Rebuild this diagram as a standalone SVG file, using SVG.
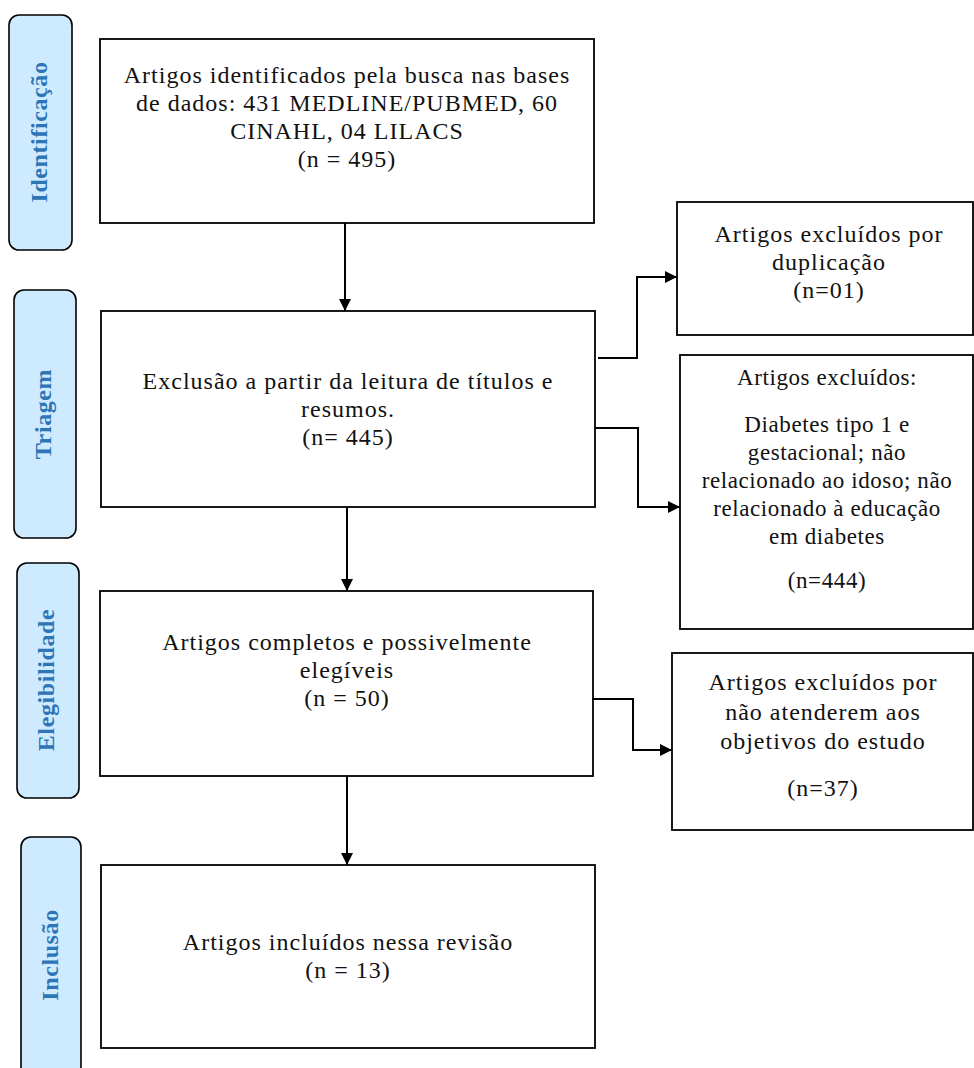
<svg xmlns="http://www.w3.org/2000/svg" width="974" height="1068" viewBox="0 0 974 1068">
<style>
.box{fill:#fff;stroke:#000;stroke-width:1.8}
.phase{fill:#cdeafe;stroke:#000;stroke-width:1.6}
.pt{font-family:"Liberation Serif",serif;font-weight:bold;font-size:24px;letter-spacing:0.6px;fill:#2e75b6;text-anchor:middle}
.t{font-family:"Liberation Serif",serif;font-size:24px;letter-spacing:1px;fill:#111;text-anchor:middle}
.ts{font-family:"Liberation Serif",serif;font-size:23px;letter-spacing:0.6px;fill:#111;text-anchor:middle}
.c{fill:none;stroke:#000;stroke-width:2;marker-end:url(#ah)}
</style>
<defs>
<marker id="ah" markerUnits="userSpaceOnUse" viewBox="0 0 12 12" refX="12" refY="6" markerWidth="12" markerHeight="12" orient="auto">
<path d="M0,0 L12,6 L0,12 z" fill="#000"/>
</marker>
</defs>
<rect width="974" height="1068" fill="#fff"/>

<g id="phase-identificacao">
<rect class="phase" x="9" y="15" width="63" height="235" rx="10"/>
<text class="pt" transform="translate(47,132) rotate(-90)">Identificação</text>
</g>
<g id="phase-triagem">
<rect class="phase" x="14" y="290" width="62" height="248" rx="10"/>
<text class="pt" transform="translate(51,414) rotate(-90)">Triagem</text>
</g>
<g id="phase-elegibilidade">
<rect class="phase" x="17" y="563" width="62" height="235" rx="10"/>
<text class="pt" transform="translate(54,680) rotate(-90)">Elegibilidade</text>
</g>
<g id="phase-inclusao">
<rect class="phase" x="21" y="837" width="60" height="240" rx="10"/>
<text class="pt" transform="translate(58,955) rotate(-90)">Inclusão</text>
</g>

<g id="node-identificados">
<rect class="box" x="100" y="39" width="494" height="184"/>
<text class="t" x="347" y="83">Artigos identificados pela busca nas bases</text>
<text class="t" x="347" y="111">de dados: 431 MEDLINE/PUBMED, 60</text>
<text class="t" x="347" y="139">CINAHL, 04 LILACS</text>
<text class="t" x="347" y="167">(n = 495)</text>
</g>
<g id="node-triagem">
<rect class="box" x="101" y="311" width="494" height="196"/>
<text class="t" x="348" y="389">Exclusão a partir da leitura de títulos e</text>
<text class="t" x="348" y="417">resumos.</text>
<text class="t" x="348" y="445">(n= 445)</text>
</g>
<g id="node-elegiveis">
<rect class="box" x="100" y="591" width="493" height="185"/>
<text class="t" x="347" y="650">Artigos completos e possivelmente</text>
<text class="t" x="347" y="678">elegíveis</text>
<text class="t" x="347" y="706">(n = 50)</text>
</g>
<g id="node-incluidos">
<rect class="box" x="101" y="865" width="494" height="183"/>
<text class="t" x="348" y="950">Artigos incluídos nessa revisão</text>
<text class="t" x="348" y="978">(n = 13)</text>
</g>
<g id="node-duplicacao">
<rect class="box" x="677" y="202" width="296" height="133"/>
<text class="t" x="829" y="242">Artigos excluídos por</text>
<text class="t" x="829" y="270">duplicação</text>
<text class="t" x="829" y="298">(n=01)</text>
</g>
<g id="node-excluidos">
<rect class="box" x="680" y="355" width="293" height="274"/>
<text class="ts" x="827" y="385">Artigos excluídos:</text>
<text class="ts" x="827" y="432">Diabetes tipo 1 e</text>
<text class="ts" x="827" y="460">gestacional; não</text>
<text class="ts" x="827" y="488">relacionado ao idoso; não</text>
<text class="ts" x="827" y="516">relacionado à educação</text>
<text class="ts" x="827" y="544">em diabetes</text>
<text class="ts" x="827" y="588">(n=444)</text>
</g>
<g id="node-objetivos">
<rect class="box" x="672" y="653" width="301" height="177"/>
<text class="t" x="823" y="690">Artigos excluídos por</text>
<text class="t" x="823" y="720">não atenderem aos</text>
<text class="t" x="823" y="749">objetivos do estudo</text>
<text class="t" x="823" y="796">(n=37)</text>
</g>

<g id="connectors">
<path class="c" d="M345,223 V311"/>
<path class="c" d="M347,507 V591"/>
<path class="c" d="M347,776 V865"/>
<path class="c" d="M598,358 H637 V277 H677"/>
<path class="c" d="M595,428 H638 V507 H680"/>
<path class="c" d="M592,699 H633 V750 H672"/>
</g>
</svg>
